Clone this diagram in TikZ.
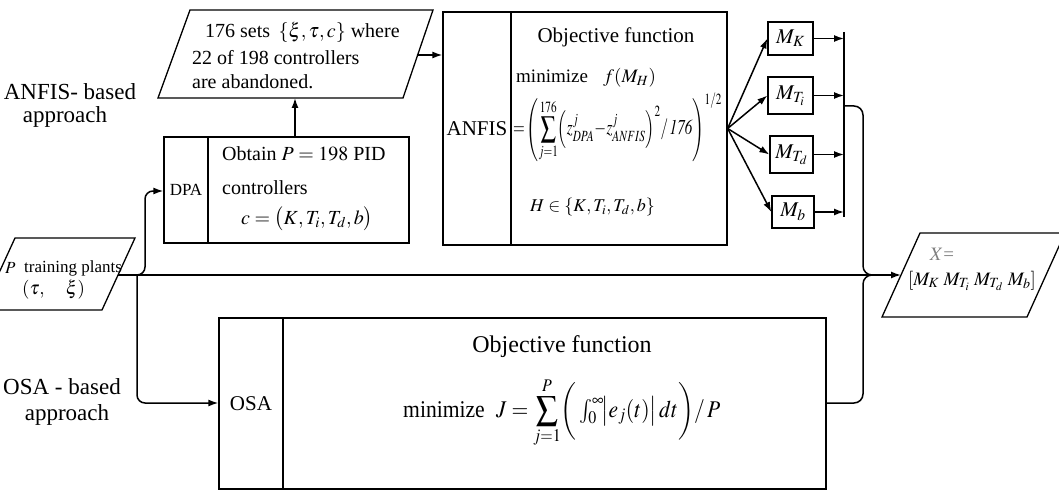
\documentclass[tikz,border=0pt]{standalone}
\usepackage{mathptmx}
\usepackage[no-math]{fontspec}
\setmainfont{Liberation Serif}
\usepackage{graphicx}
\usetikzlibrary{arrows.meta}
\newcommand\fsz[1]{\fontsize{#1pt}{#1pt}\selectfont}
\tikzset{
  box/.style={draw, line width=1.3pt, inner sep=0pt, anchor=center},
  outline/.style={draw, line width=1.3pt, line join=miter},
  conn/.style={line width=1.5pt},
  arr/.style={conn, -{Latex[length=10pt,width=7pt]}},
  lbl/.style={inner sep=0pt, align=left},
}
\begin{document}
\begin{tikzpicture}[x=1pt,y=-1pt]
\useasboundingbox (0,0) rectangle (1059,492);
\clip (0,0) rectangle (1059,492);

% ---------- side labels
\node[lbl] (anfislab1) at (70,92) {\fsz{23}ANFIS- based};
\node[lbl] (anfislab2) at (65,117) {\fsz{23}approach};
\node[lbl] (osalab1) at (62,387) {\fsz{23}OSA - based};
\node[lbl] (osalab2) at (67,415) {\fsz{23}approach};

% ---------- training plants parallelogram
\draw[outline] (15,238) -- (135,238) -- (102,310) -- (-18,310) -- cycle;
\node[lbl, anchor=west] (pP) at (5,268) {\fsz{17}$P$};
\node[lbl, anchor=west] (pT) at (24,268) {\fsz{17}training plants};
\node[lbl, anchor=west] (pG) at (22,290) {\fsz{19}$(\tau,\quad\xi)$};
\coordinate (plantsR) at (118,275);

% ---------- 176 sets parallelogram
\draw[outline] (190,10) -- (433,10) -- (403,98) -- (158,98) -- cycle;
\node[lbl, anchor=base west] (s1) at (205,38) {\fsz{20}176 sets\, $\{\xi,\tau,c\}$ where};
\node[lbl, anchor=base west] (s2) at (192,65) {\fsz{20}22 of 198 controllers};
\node[lbl, anchor=base west] (s3) at (192,89) {\fsz{20}are abandoned.};
\coordinate (setsR) at (416.6,55);
\coordinate (setsB) at (295,98);

% ---------- DPA box
\node[box, minimum width=44pt, minimum height=106pt] (dpaL) at (186,190) {};
\node[box, minimum width=201pt, minimum height=106pt] (dpaR) at (308.5,190) {};
\node[lbl] (dpaT) at (dpaL.center) {\fsz{17}DPA};
\node[lbl, anchor=base west] (d1) at (222,160) {\fsz{20}Obtain $P=198$ PID};
\node[lbl, anchor=base west] (d2) at (222,194) {\fsz{20}controllers};
\node[lbl, anchor=base west] (d3) at (241,224) {\fsz{20}$c=\bigl(K,T_i,T_d,b\bigr)$};

% ---------- ANFIS box
\node[box, minimum width=68pt, minimum height=233pt] (anfisL) at (477,128.5) {};
\node[box, minimum width=216pt, minimum height=233pt] (anfisR) at (619,128.5) {};
\node[lbl] (anfisT) at (anfisL.center) {\fsz{21}ANFIS};
\node[lbl] (a1) at (616,37) {\fsz{21}Objective function};
\node[lbl, anchor=base west] (a2) at (516,83) {\fsz{19}minimize\;\; $f(M_H)$};
\node[lbl, anchor=base west] (a3) at (513,135) {\scalebox{0.72}[1]{\fsz{21}$\displaystyle =\!\left(\sum_{j=1}^{176}\!\left(z^j_{DPA}\!-\!z^j_{ANFIS}\right)^{2}\!/\,\mathit{176}\right)^{1/2}$}};
\node[lbl, anchor=west] (a4) at (530,207) {\fsz{18}$H\in\{K,T_i,T_d,b\}$};

% ---------- M boxes
\node[box, minimum width=45pt, minimum height=33pt] (mK) at (790.5,38.5) {\fsz{21}$M_K$};
\node[box, minimum width=45pt, minimum height=37pt] (mTi) at (790.5,95.5) {\fsz{21}$M_{T_i}$};
\node[box, minimum width=43pt, minimum height=37pt] (mTd) at (791.5,154.5) {\fsz{21}$M_{T_d}$};
\node[box, minimum width=42pt, minimum height=32pt] (mb) at (793,212) {\fsz{21}$M_b$};
\coordinate (busT) at (844,32);
\coordinate (busB) at (844,217);
\coordinate (busO) at (844,106);

% ---------- OSA box
\node[box, minimum width=64pt, minimum height=171pt] (osaL) at (251,403.5) {};
\node[box, minimum width=543pt, minimum height=171pt] (osaR) at (554.5,403.5) {};
\node[lbl] (osaT) at (osaL.center) {\fsz{21}OSA};
\node[lbl] (o1) at (562,347) {\fsz{24}Objective function};
\node[lbl, anchor=base west] (o2) at (403,417) {\scalebox{0.9}[1]{\fsz{24}minimize\; $\displaystyle J=\sum_{j=1}^{P}\biggl(\,{\textstyle\int_0^\infty}\!\bigl|e_j(t)\bigr|\,dt\biggr)/\,P$}};

% ---------- X parallelogram
\draw[outline] (920,233) -- (1065,233) -- (1027,317) -- (882,317) -- cycle;
\node[lbl, text=gray] (x1) at (942,254) {\fsz{19}$X$=};
\node[lbl] (x2) at (972,281) {\fsz{19}$[M_K\;M_{T_i}\;M_{T_d}\;M_b]$};
\coordinate (xL) at (901,275);

% ---------- connectors
\draw[arr] (setsB |- dpaR.north) -- (setsB);
\draw[arr] (setsR) -- (setsR -| anfisL.west);
\draw[arr, rounded corners=8pt] (plantsR) -- (145,275) -- (145,191) -- (dpaL.west |- 0,191);
\draw[arr, rounded corners=8pt] (137,275) -- (137,403) -- (osaL.west |- 0,403);
\draw[arr] (plantsR) -- (xL);
\draw[arr] (anfisR.east) -- (mK.west);
\draw[arr] (anfisR.east) -- (mTi.west);
\draw[arr] (anfisR.east) -- (mTd.west);
\draw[arr] (anfisR.east) -- (mb.west);
\draw[arr] (mK.east) -- (mK.east -| busT);
\draw[arr] (mTi.east) -- (mTi.east -| busT);
\draw[arr] (mTd.east) -- (mTd.east -| busT);
\draw[arr] (mb.east) -- (mb.east -| busT);
\draw[conn] (busT) -- (busB);
\draw[conn, rounded corners=9pt] (busO) -- (863,106) -- (863,275) -- (885,275);
\draw[conn, rounded corners=9pt] (osaR.east |- 0,403) -- (863,403) -- (863,275) -- (885,275);
\end{tikzpicture}
\end{document}
